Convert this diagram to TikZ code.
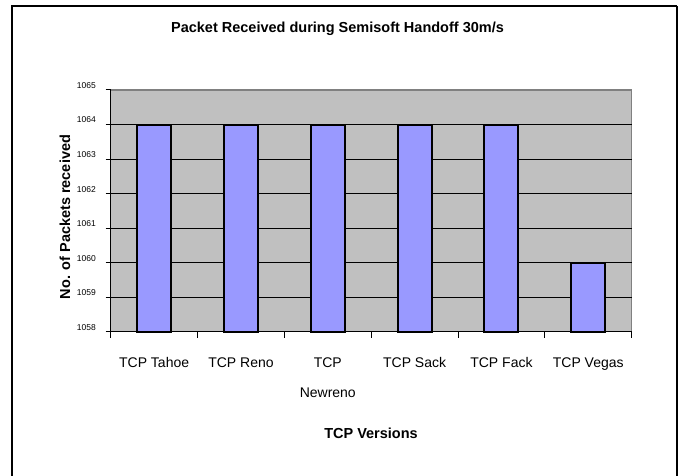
\documentclass[tikz,border=0pt]{standalone}
\usepackage{fontspec}
\setmainfont{Liberation Sans}
\definecolor{plotbg}{HTML}{C0C0C0}
\definecolor{plotedge}{HTML}{808080}
\definecolor{barfill}{HTML}{9999FF}
\begin{document}
\begin{tikzpicture}[x=1pt,y=-1pt,
  bar/.style={draw=black,line width=2pt,fill=barfill},
  ticklab/.style={font=\fontsize{8.5}{9}\selectfont,anchor=east,inner sep=0pt},
  catlab/.style={font=\fontsize{14}{16}\selectfont,inner sep=0pt,anchor=base},
  boldlab/.style={font=\bfseries\fontsize{14.5}{16}\selectfont,inner sep=0pt},
  grid/.style={black,line width=1pt},
  axis/.style={black,line width=1pt}]
\useasboundingbox (0,0) rectangle (683,476);
% outer frame
\draw[black,line width=1.2pt] (12,476) -- (12,6) -- (677,6);
\draw[black,line width=2pt] (677,6) -- (677,476);
% plot area
\def\xl{110.7}\def\xr{631.7}\def\yb{331.7}\def\yt{90}
\def\du{34.53}\def\cw{86.83}
\fill[plotbg] (\xl,\yt) rectangle (\xr,\yb);
\draw[plotedge,line width=1.5pt] (\xl,\yt) -- (\xr,\yt) -- (\xr,\yb);
\foreach \k in {1,...,6}{
  \draw[grid] (\xl,\yb-\k*\du) -- (\xr,\yb-\k*\du);
}
% axes
\draw[axis] (\xl,\yt) -- (\xl,\yb) -- (\xr,\yb);
\foreach \k in {0,...,7}{
  \draw[axis] (\xl-5,\yb-\k*\du) -- (\xl,\yb-\k*\du);
  \pgfmathtruncatemacro{\v}{1058+\k}
  \node[ticklab] (t\k) at (96,\yb-\k*\du-4.5) {\v};
}
\foreach \k in {0,...,6}{
  \draw[axis] (\xl+\k*\cw,\yb) -- (\xl+\k*\cw,\yb+6);
}
% bars
\foreach \k/\val in {0/6,1/6,2/6,3/6,4/6,5/2}{
  \draw[bar] (\xl+\k*\cw+0.5*\cw-17,\yb) rectangle (\xl+\k*\cw+0.5*\cw+17,\yb-\val*\du);
}
% category labels
\foreach \k/\txt in {0/TCP Tahoe,1/TCP Reno,2/TCP,3/TCP Sack,4/TCP Fack,5/TCP Vegas}{
  \node[catlab] (c\k) at (\xl+\k*\cw+0.5*\cw,367.3) {\txt};
}
\node[catlab] (newreno) at (\xl+2.5*\cw,397.3) {Newreno};
% titles
\node[boldlab,anchor=base] (title) at (337.5,32.7) {Packet Received during Semisoft Handoff 30m/s};
\node[boldlab,anchor=base] (xtitle) at (371,438.3) {TCP Versions};
\node[boldlab,rotate=90] (ytitle) at (65,217) {No. of Packets received};
\end{tikzpicture}
\end{document}
